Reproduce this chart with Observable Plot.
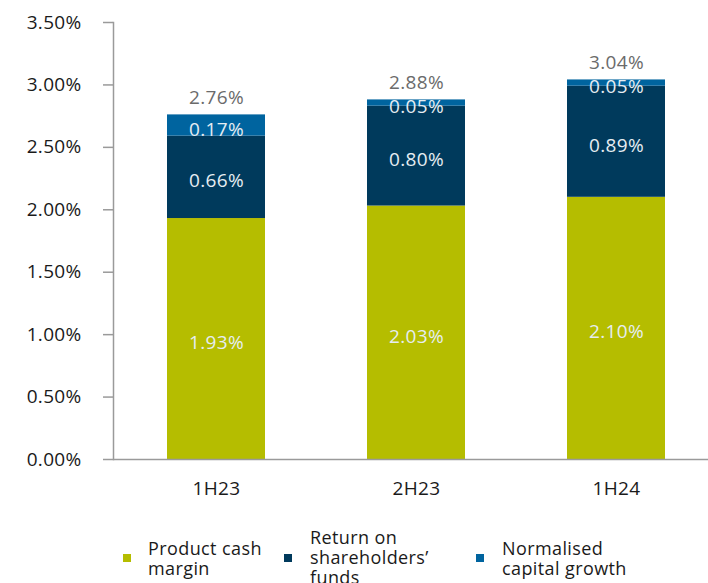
<!DOCTYPE html>
<html>
<head>
<meta charset="utf-8">
<script src="https://cdn.jsdelivr.net/npm/d3@7"></script>
<script src="https://cdn.jsdelivr.net/npm/@observablehq/plot@0.6"></script>
<style>
  body { margin: 0; background: #fff; font-family: "Open Sans", sans-serif; }
  #wrap { position: relative; width: 708px; height: 583px; overflow: hidden; }
  .leg { position: absolute; font-size: 18px; line-height: 20px; color: #1a1a1a; letter-spacing: 0.4px; }
  .sw { position: absolute; width: 8px; height: 8px; }
</style>
</head>
<body>
<div id="wrap"></div>
<script>
const periods = ["1H23", "2H23", "1H24"];
const seriesNames = ["Product cash margin", "Return on shareholders’ funds", "Normalised capital growth"];
const productCashMargin = [1.93, 2.03, 2.10];
const returnOnFunds = [0.66, 0.80, 0.89];
const capitalGrowth = [0.17, 0.05, 0.05];
const totals = [2.76, 2.88, 3.04];
const colors = ["#b5bd00", "#003a5c", "#00649f"];
const yTicks = [0, 0.5, 1.0, 1.5, 2.0, 2.5, 3.0, 3.5];

const seriesValues = [productCashMargin, returnOnFunds, capitalGrowth];
const data = [];
seriesNames.forEach((s, si) => {
  periods.forEach((p, pi) => data.push({period: p, series: s, value: seriesValues[si][pi]}));
});
const totalData = periods.map((p, i) => ({period: p, total: totals[i]}));
const fmt = d => d.toFixed(2) + "%";

const chart = Plot.plot({
  width: 708,
  height: 512,
  marginLeft: 113,
  marginRight: 0,
  marginTop: 22,
  marginBottom: 53,
  style: {fontFamily: "Open Sans, sans-serif", fontSize: "19px", color: "#1a1a1a", background: "#fff", letterSpacing: "0.3px"},
  x: {domain: periods, paddingInner: 0.51, paddingOuter: 0.2425, align: 0.557, label: null, tickSize: 0, tickPadding: 22},
  y: {domain: [0, 3.5], ticks: yTicks, tickFormat: fmt, label: null, tickSize: 10, tickPadding: 22, line: true},
  color: {domain: seriesNames, range: colors},
  marks: [
    Plot.barY(data, {x: "period", y: "value", fill: "series", order: seriesNames}),
    Plot.text(data, Plot.stackY({x: "period", y: "value", z: "series", order: seriesNames, text: d => fmt(d.value), fill: "#e6edf2", dy: 4, fontSize: 19})),
    Plot.text(totalData, {x: "period", y: "total", text: d => fmt(d.total), fill: "#6b6b6b", dy: -17, fontSize: 19}),
    Plot.ruleY([0], {stroke: "#9a9a9a", strokeWidth: 1.5})
  ]
});
chart.querySelectorAll('[aria-label="y-axis tick"], [aria-label="y-axis line"], [aria-label="frame"]').forEach(g => { g.setAttribute("stroke", "#9a9a9a"); g.setAttribute("stroke-width", "1.5"); });
const wrap = document.getElementById("wrap");
wrap.appendChild(chart);

const legendItems = [
  {name: "Product cash<br>margin", color: colors[0], sx: 123, tx: 148, ty: 538},
  {name: "Return on<br>shareholders’<br>funds", color: colors[1], sx: 284, tx: 310, ty: 527},
  {name: "Normalised<br>capital growth", color: colors[2], sx: 476, tx: 502, ty: 538}
];
legendItems.forEach(it => {
  const sw = document.createElement("div");
  sw.className = "sw";
  sw.style.left = it.sx + "px";
  sw.style.top = "554px";
  sw.style.background = it.color;
  wrap.appendChild(sw);
  const t = document.createElement("div");
  t.className = "leg";
  t.style.left = it.tx + "px";
  t.style.top = it.ty + "px";
  t.innerHTML = it.name;
  wrap.appendChild(t);
});
</script>
</body>
</html>
